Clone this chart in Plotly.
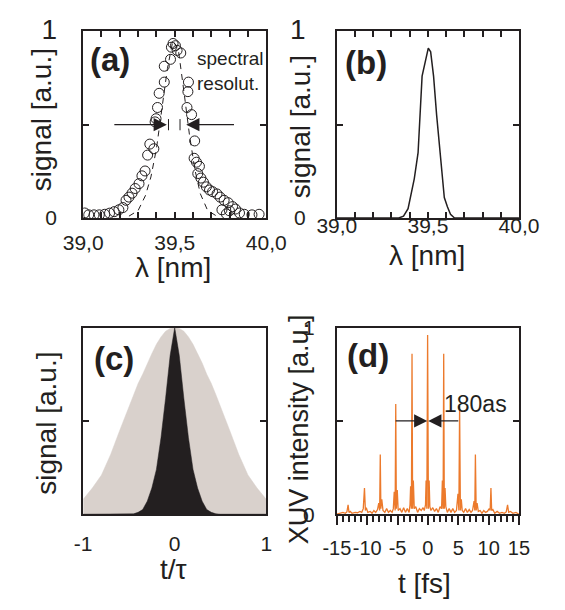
import plotly.graph_objects as go

# ---------------- data ----------------
# (a) measured spectrum (circles) and fit (dashed)
a_x = [39.491, 39.504, 39.482, 39.513, 39.533, 39.477, 39.443, 39.443, 39.415, 39.575,
       39.572, 39.406, 39.567, 39.592, 39.398, 39.393, 39.609, 39.364, 39.386, 39.352,
       39.606, 39.619, 39.635, 39.338, 39.321, 39.626, 39.643, 39.657, 39.305, 39.284,
       39.267, 39.250, 39.234, 39.673, 39.690, 39.707, 39.731, 39.748, 39.770, 39.792,
       39.816, 39.832, 39.217, 39.195, 39.169, 39.144, 39.118, 39.088, 39.059, 39.030,
       39.008, 39.854, 39.880, 39.922, 39.961, 39.782, 39.799, 39.758]
a_y = [0.935, 0.923, 0.915, 0.898, 0.884, 0.850, 0.813, 0.728, 0.668, 0.728,
       0.677, 0.592, 0.592, 0.554, 0.532, 0.515, 0.413, 0.396, 0.371, 0.337,
       0.320, 0.299, 0.277, 0.252, 0.226, 0.238, 0.214, 0.192, 0.184, 0.158,
       0.133, 0.112, 0.095, 0.167, 0.150, 0.141, 0.129, 0.112, 0.095, 0.082,
       0.061, 0.048, 0.056, 0.044, 0.034, 0.026, 0.020, 0.017, 0.017, 0.017,
       0.027, 0.027, 0.020, 0.017, 0.020, 0.022, 0.039, 0.044]
fit_x = [39.25, 39.30, 39.34, 39.37, 39.40, 39.43, 39.46, 39.49, 39.52, 39.55,
         39.58, 39.61, 39.64, 39.68, 39.73]
fit_y = [0.01, 0.04, 0.12, 0.22, 0.37, 0.58, 0.80, 0.95, 0.90, 0.68,
         0.45, 0.26, 0.13, 0.04, 0.01]
res_marks = [39.466, 39.529]          # spectral resolution limits
res_arrows_tail = [39.162, 39.832]
res_arrows_tip = [39.457, 39.563]

# (b) spectrum
b_x = [39.00, 39.34, 39.366, 39.391, 39.425, 39.446, 39.468, 39.485, 39.502, 39.515,
       39.531, 39.548, 39.570, 39.590, 39.607, 39.624, 39.646, 40.00]
b_y = [0.0, 0.0, 0.01, 0.05, 0.21, 0.35, 0.76, 0.84, 0.91, 0.89,
       0.76, 0.55, 0.32, 0.11, 0.06, 0.02, 0.0, 0.0]

# (c) pulse envelopes
c_t = [-1.0, -0.9, -0.8, -0.7, -0.6, -0.5, -0.45, -0.4, -0.35, -0.3, -0.25, -0.2, -0.15,
       -0.1, -0.05, 0.0, 0.05, 0.1, 0.15, 0.2, 0.25, 0.3, 0.35, 0.4, 0.45, 0.5, 0.6,
       0.7, 0.8, 0.9, 1.0]
c_wide = [0.08, 0.14, 0.21, 0.32, 0.45, 0.58, 0.64, 0.70, 0.75, 0.81, 0.86, 0.91, 0.95,
          0.98, 0.995, 1.0, 0.995, 0.98, 0.95, 0.91, 0.86, 0.81, 0.75, 0.70, 0.64, 0.58, 0.45,
          0.32, 0.21, 0.14, 0.08]
c_narrow = [0.0, 0.0, 0.0, 0.0, 0.0, 0.0, 0.002, 0.01, 0.025, 0.07, 0.14, 0.24, 0.41,
            0.62, 0.85, 1.0, 0.85, 0.62, 0.41, 0.24, 0.14, 0.07, 0.025, 0.01, 0.002, 0.0, 0.0,
            0.0, 0.0, 0.0, 0.0]

# (d) attosecond pulse train
d_t = [-15.0, -14.5, -14.0, -13.6, -13.35, -13.15, -13.0, -12.8, -12.5, -12.0,
       -11.6, -11.2, -10.9, -10.65, -10.45, -10.3, -10.15, -9.9, -9.5, -9.2,
       -8.9, -8.6, -8.3, -8.1, -7.95, -7.85, -7.75, -7.6, -7.4, -7.1,
       -6.8, -6.5, -6.2, -5.9, -5.7, -5.55, -5.4, -5.3, -5.2, -5.05,
       -4.9, -4.6, -4.3, -4.0, -3.7, -3.4, -3.1, -2.95, -2.85, -2.72,
       -2.62, -2.52, -2.4, -2.25, -2.0, -1.7, -1.4, -1.1, -0.8, -0.6,
       -0.4, -0.3, -0.18, -0.05, 0.08, 0.2, 0.32, 0.5, 0.8, 1.1,
       1.4, 1.7, 2.0, 2.25, 2.38, 2.5, 2.6, 2.7, 2.82, 2.95,
       3.2, 3.5, 3.8, 4.1, 4.4, 4.7, 4.95, 5.1, 5.22, 5.35,
       5.5, 5.65, 5.9, 6.2, 6.5, 6.8, 7.1, 7.35, 7.6, 7.72,
       7.82, 7.95, 8.1, 8.3, 8.6, 8.9, 9.2, 9.5, 9.8, 10.1,
       10.25, 10.38, 10.5, 10.7, 11.0, 11.4, 11.8, 12.2, 12.6, 12.9,
       13.12, 13.3, 13.6, 14.0, 14.5, 15.0]
d_I = [0.0, 0.005, 0.01, 0.005, 0.012, 0.05, 0.01, 0.015, 0.005, 0.01,
       0.008, 0.015, 0.01, 0.03, 0.14, 0.02, 0.035, 0.01, 0.015, 0.005,
       0.02, 0.01, 0.025, 0.06, 0.02, 0.32, 0.03, 0.08, 0.02, 0.01,
       0.03, 0.01, 0.02, 0.01, 0.03, 0.12, 0.02, 0.59, 0.03, 0.13,
       0.02, 0.03, 0.01, 0.035, 0.01, 0.03, 0.01, 0.05, 0.15, 0.03,
       0.86, 0.03, 0.18, 0.03, 0.04, 0.01, 0.03, 0.02, 0.035, 0.02,
       0.05, 0.18, 0.03, 0.96, 0.03, 0.18, 0.04, 0.02, 0.035, 0.015,
       0.03, 0.01, 0.04, 0.03, 0.18, 0.03, 0.86, 0.03, 0.14, 0.04,
       0.01, 0.03, 0.01, 0.03, 0.01, 0.02, 0.11, 0.02, 0.58, 0.02,
       0.08, 0.02, 0.01, 0.03, 0.01, 0.025, 0.01, 0.02, 0.07, 0.02,
       0.32, 0.02, 0.06, 0.015, 0.02, 0.005, 0.02, 0.01, 0.015, 0.03,
       0.02, 0.14, 0.02, 0.025, 0.005, 0.015, 0.005, 0.01, 0.005, 0.012,
       0.05, 0.01, 0.015, 0.005, 0.01, 0.0]
fwhm_tail = [-5.56, 5.25]
fwhm_tip = [-0.1, 0.05]

lam_ticks = [39.0, 39.1, 39.2, 39.3, 39.4, 39.5, 39.6, 39.7, 39.8, 39.9, 40.0]
lam_text = ["39,0", "", "", "", "", "39,5", "", "", "", "", "40,0"]
sig_ticks = [0, 0.5, 1]
sig_text = ["0", "", "1"]
sig_text_big1 = ["0", "", "<span style='font-size:28px'>1</span>"]
t_ticks = [-15, -10, -5, 0, 5, 10, 15]
t_text = ["-15", "-10", "-5", "0", "5", "10", "15"]

# ---------------- figure ----------------
FONT = "Liberation Sans, Arial, Helvetica, sans-serif"
BLACK = "#231f20"
ORANGE = "#ec7a2c"
GREY = "#d9d1cc"

fig = go.Figure()

fig.add_trace(go.Scatter(x=fit_x, y=fit_y, mode="lines", line=dict(color=BLACK, width=1, dash="6px,5px"),
                         xaxis="x", yaxis="y", showlegend=False))
fig.add_trace(go.Scatter(x=a_x, y=a_y, mode="markers",
                         marker=dict(symbol="circle-open", size=10, color=BLACK, line=dict(width=1)),
                         xaxis="x", yaxis="y", showlegend=False))
for xm in res_marks:
    fig.add_trace(go.Scatter(x=[xm, xm], y=[0.47, 0.53], mode="lines", line=dict(color=BLACK, width=1),
                             xaxis="x", yaxis="y", showlegend=False))

fig.add_trace(go.Scatter(x=b_x, y=b_y, mode="lines", line=dict(color=BLACK, width=1.5),
                         xaxis="x2", yaxis="y2", showlegend=False))

fig.add_trace(go.Scatter(x=c_t, y=c_wide, mode="lines", fill="tozeroy", fillcolor=GREY,
                         line=dict(color=GREY, width=0.5), xaxis="x3", yaxis="y3", showlegend=False))
fig.add_trace(go.Scatter(x=c_t, y=c_narrow, mode="lines", fill="tozeroy", fillcolor=BLACK,
                         line=dict(color=BLACK, width=0.5), xaxis="x3", yaxis="y3", showlegend=False))

fig.add_trace(go.Scatter(x=d_t, y=d_I, mode="lines", line=dict(color=ORANGE, width=1.3),
                         xaxis="x4", yaxis="y4", showlegend=False))

tickfont = dict(family=FONT, size=21, color=BLACK)
common = dict(showgrid=False, zeroline=False, showline=True, linecolor=BLACK, linewidth=2,
              tickcolor=BLACK, tickwidth=1.5, tickfont=tickfont, fixedrange=True)

XL = [68 / 565, 265 / 565]
XR = [341 / 565, 537 / 565]
YT = [1 - 210 / 610, 1 - 14 / 610]
YB = [1 - 521 / 610, 1 - 325 / 610]

fig.update_layout(
    width=565, height=610, margin=dict(l=0, r=0, t=0, b=0),
    paper_bgcolor="white", plot_bgcolor="white",
    font=dict(family=FONT, color=BLACK),
    xaxis=dict(common, domain=XL, anchor="y", range=[39.0, 40.0], tickmode="array",
               tickvals=lam_ticks, ticktext=lam_text, ticks="inside", ticklen=6, mirror="ticks",
               tickangle=0, ticklabelstandoff=5),
    yaxis=dict(common, domain=YT, anchor="x", range=[0, 1], tickmode="array",
               tickvals=sig_ticks, ticktext=sig_text_big1, ticks="inside", ticklen=6, mirror="ticks",
               ticklabelstandoff=20),
    xaxis2=dict(common, domain=XR, anchor="y2", range=[39.0, 40.0], tickmode="array",
                tickvals=lam_ticks, ticktext=lam_text, ticks="inside", ticklen=6, mirror="ticks",
                tickangle=0, ticklabelstandoff=-12),
    yaxis2=dict(common, domain=YT, anchor="x2", range=[0, 1], tickmode="array",
                tickvals=sig_ticks, ticktext=sig_text_big1, ticks="inside", ticklen=6, mirror="ticks",
                ticklabelstandoff=25),
    xaxis3=dict(common, domain=XL, anchor="y3", range=[-1, 1], tickmode="array",
                tickvals=[-1, 0, 1], ticktext=["-1", "0", "1"], ticks="", mirror=True,
                tickangle=0, ticklabelstandoff=10),
    yaxis3=dict(common, domain=YB, anchor="x3", range=[0, 1], tickmode="array",
                tickvals=[0.5], ticktext=[""], ticks="inside", ticklen=6, mirror="ticks"),
    xaxis4=dict(common, domain=XR, anchor="y4", range=[-15, 15], tickmode="array",
                tickvals=t_ticks, ticktext=t_text, ticks="outside", ticklen=9, mirror=True,
                tickangle=0, ticklabelstandoff=6, tickfont=dict(family=FONT, size=20, color=BLACK),
                minor=dict(tickmode="linear", dtick=1, ticks="outside", ticklen=6,
                           tickcolor=BLACK, tickwidth=1.5)),
    yaxis4=dict(common, domain=YB, anchor="x4", range=[0, 1], tickmode="array",
                tickvals=sig_ticks, ticktext=sig_text, ticks="inside", ticklen=6, mirror="ticks",
                ticklabelstandoff=16),
)

ann = []
# axis titles
def title(text, x, y, angle=0, size=28):
    ann.append(dict(text=text, x=x / 565, y=1 - y / 610, xref="paper", yref="paper",
                    xanchor="center", yanchor="middle", showarrow=False, textangle=angle,
                    font=dict(family=FONT, size=size, color=BLACK)))

title("signal [a.u.]", 24, 107, -90, 28)
title("signal [a.u.]", 302, 114, -90, 28)
title("signal [a.u.]", 29, 425, -90, 28)
title("XUV intensity [a.u.]", 301, 432, -90, 27)
title("λ [nm]", 165, 262)
title("λ [nm]", 438, 249)
title("t/τ", 165, 579)
title("t [fs]", 435, 594)

# panel labels
for lab, px, py in [("(a)", 97, 44), ("(b)", 372, 47), ("(c)", 101, 358), ("(d)", 375, 354)]:
    ann.append(dict(text="<b>" + lab + "</b>", x=px / 565, y=1 - py / 610, xref="paper", yref="paper",
                    xanchor="center", yanchor="middle", showarrow=False,
                    font=dict(family=FONT, size=33, color=BLACK)))

# spectral resolution arrows
for tail, tip in zip(res_arrows_tail, res_arrows_tip):
    ann.append(dict(x=tip, y=0.5, ax=tail, ay=0.5, xref="x", yref="y", axref="x", ayref="y",
                    showarrow=True, arrowhead=2, arrowsize=2.2, arrowwidth=1.2, arrowcolor=BLACK, text=""))
ann.append(dict(text="spectral<br>resolut.", x=39.612, y=0.79, xref="x", yref="y",
                xanchor="left", yanchor="middle", align="left", showarrow=False,
                font=dict(family=FONT, size=19, color=BLACK)))

# FWHM arrows (d)
for tail, tip in zip(fwhm_tail, fwhm_tip):
    ann.append(dict(x=tip, y=0.5, ax=tail, ay=0.5, xref="x4", yref="y4", axref="x4", ayref="y4",
                    showarrow=True, arrowhead=2, arrowsize=2.2, arrowwidth=1.2, arrowcolor=BLACK, text=""))
ann.append(dict(text="180as", x=7.8, y=0.59, xref="x4", yref="y4", xanchor="center", yanchor="middle",
                showarrow=False, font=dict(family=FONT, size=23, color=BLACK)))

fig.update_layout(annotations=ann)
fig.write_html("out.html", post_script="document.body.style.margin='0';document.body.style.overflow='hidden';")
